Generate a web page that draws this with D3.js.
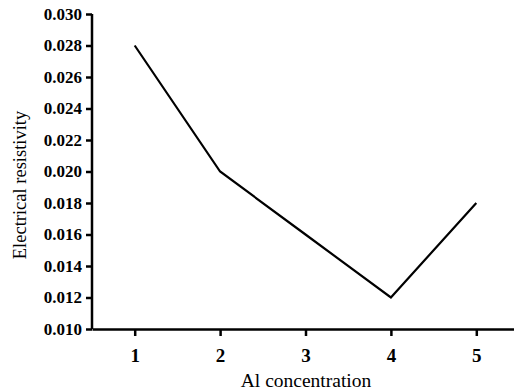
<!DOCTYPE html>
<html>
<head>
<meta charset="utf-8">
<script src="https://cdn.jsdelivr.net/npm/d3@7"></script>
<style>
  body { margin: 0; background: #fff; }
  svg { display: block; }
</style>
</head>
<body>
<svg id="chart" width="514" height="391"></svg>
<script>
var concentrations = [1, 2, 3, 4, 5];
var resistivity = [0.028, 0.020, 0.016, 0.012, 0.018];
var yTicks = [0.010, 0.012, 0.014, 0.016, 0.018, 0.020, 0.022, 0.024, 0.026, 0.028, 0.030];

var svg = d3.select("#chart");

var x = d3.scaleLinear()
    .domain([0.5, 5.5])
    .range([92, 519]);

var y = d3.scaleLinear()
    .domain([0.010, 0.030])
    .range([329, 14]);

var font = "'Liberation Serif', 'Times New Roman', serif";

// y axis
var gy = svg.append("g")
    .attr("transform", "translate(92,0)")
    .call(d3.axisLeft(y)
        .tickValues(yTicks)
        .tickSize(6)
        .tickFormat(d3.format(".3f")));

// x axis
var gx = svg.append("g")
    .attr("transform", "translate(0,329)")
    .call(d3.axisBottom(x)
        .tickValues(concentrations)
        .tickSize(7)
        .tickSizeOuter(0)
        .tickFormat(d3.format("d")));

[gx, gy].forEach(function(g) {
    g.select(".domain").attr("stroke", "#000").attr("stroke-width", 2.5);
    g.selectAll(".tick line").attr("stroke", "#000").attr("stroke-width", 2.5);
    g.selectAll(".tick text")
        .attr("fill", "#000")
        .attr("font-family", font)
        .attr("font-weight", "bold");
});
gy.selectAll(".tick text").attr("x", -10).attr("font-size", 17);
gx.selectAll(".tick text").attr("y", 33).attr("dy", 0).attr("font-size", 19);
gy.select(".domain").attr("d", "M0,14V329");

var line = d3.line()
    .x(function(d, i) { return x(concentrations[i]); })
    .y(function(d) { return y(d); });

svg.append("path")
    .datum(resistivity)
    .attr("fill", "none")
    .attr("stroke", "#000")
    .attr("stroke-width", 2.2)
    .attr("d", line);

svg.append("text")
    .attr("x", 306)
    .attr("y", 387)
    .attr("text-anchor", "middle")
    .attr("font-family", font)
    .attr("font-size", 19.5)
    .text("Al concentration");

svg.append("text")
    .attr("transform", "translate(26,185) rotate(-90)")
    .attr("text-anchor", "middle")
    .attr("font-family", font)
    .attr("font-size", 18.5)
    .text("Electrical resistivity");
</script>
</body>
</html>
